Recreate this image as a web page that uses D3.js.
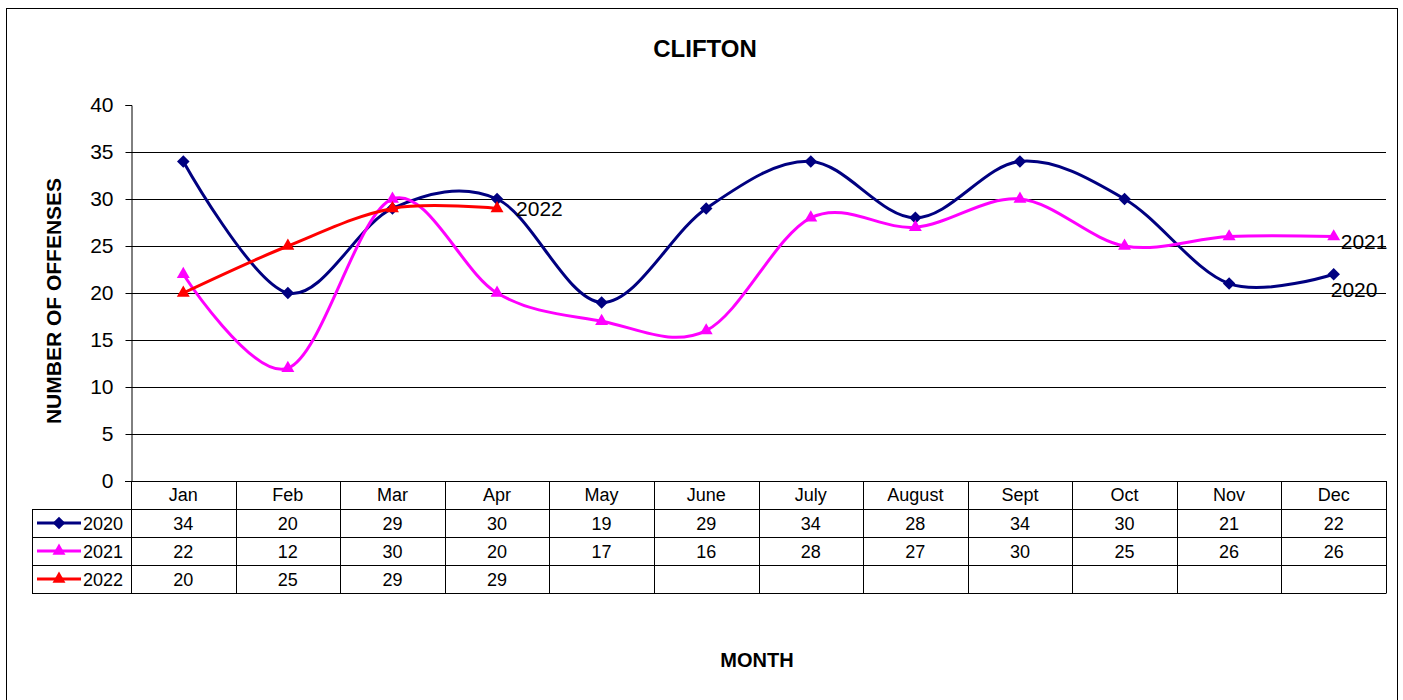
<!DOCTYPE html>
<html>
<head>
<meta charset="utf-8">
<script src="https://cdn.jsdelivr.net/npm/d3@7"></script>
<style>
  body { margin: 0; background: #fff; }
  svg text { font-family: "Liberation Sans", Arial, sans-serif; }
</style>
</head>
<body>
<div id="chart"></div>
<script>
var months = ["Jan", "Feb", "Mar", "Apr", "May", "June", "July", "August", "Sept", "Oct", "Nov", "Dec"];
var years = ["2020", "2021", "2022"];
var values2020 = [34, 20, 29, 30, 19, 29, 34, 28, 34, 30, 21, 22];
var values2021 = [22, 12, 30, 20, 17, 16, 28, 27, 30, 25, 26, 26];
var values2022 = [20, 25, 29, 29];
var yTicks = [0, 5, 10, 15, 20, 25, 30, 35, 40];

var W = 1403, H = 700;
var plotL = 131, plotR = 1386, plotT = 105, plotB = 481;
var rowH = 28, legendLeft = 32;

var svg = d3.select("#chart").append("svg")
	.attr("width", W)
	.attr("height", H);

svg.append("rect")
	.attr("x", 6.5).attr("y", 8.5)
	.attr("width", 1391).attr("height", 700)
	.attr("fill", "#fff").attr("stroke", "#000").attr("stroke-width", 1);

var x = d3.scaleBand().domain(months).range([plotL, plotR]);
var y = d3.scaleLinear().domain([0, 40]).range([plotB, plotT]);

// gridlines
svg.append("g")
	.selectAll("line")
	.data(yTicks.filter(function(d){ return d > 0 && d < 40; }))
	.enter().append("line")
	.attr("x1", plotL).attr("x2", plotR)
	.attr("y1", function(d){ return Math.round(y(d)) + 0.5; })
	.attr("y2", function(d){ return Math.round(y(d)) + 0.5; })
	.attr("stroke", "#000").attr("stroke-width", 1);

// y axis
var yAxis = svg.append("g")
	.attr("transform", "translate(" + (plotL + 0.5) + ",0)")
	.call(d3.axisLeft(y).tickValues(yTicks).tickSize(6).tickPadding(12));
yAxis.select(".domain").attr("stroke", "#000");
yAxis.selectAll("line").attr("stroke", "#000");
yAxis.selectAll("text")
	.attr("font-size", 21)
	.attr("fill", "#000")
	.style("font-family", "Liberation Sans, Arial, sans-serif");

svg.append("text")
	.attr("x", 705).attr("y", 57)
	.attr("text-anchor", "middle")
	.attr("font-size", 24).attr("font-weight", "bold")
	.text("CLIFTON");

svg.append("text")
	.attr("transform", "translate(61,301) rotate(-90)")
	.attr("text-anchor", "middle")
	.attr("font-size", 21).attr("font-weight", "bold")
	.text("NUMBER OF OFFENSES");

svg.append("text")
	.attr("x", 757).attr("y", 667)
	.attr("text-anchor", "middle")
	.attr("font-size", 20).attr("font-weight", "bold")
	.text("MONTH");

// series
var series = [
	{ name: "2020", values: values2020, color: "#000080", marker: "diamond" },
	{ name: "2021", values: values2021, color: "#FF00FF", marker: "triangle" },
	{ name: "2022", values: values2022, color: "#FF0000", marker: "triangle" }
];

var line = d3.line()
	.x(function(d, i){ return x(months[i]) + x.bandwidth() / 2; })
	.y(function(d){ return y(d); })
	.curve(d3.curveCardinal.tension(0));

function markerPath(type){
	return type == "diamond"
		? d3.symbol().type(d3.symbolDiamond2).size(100)()
		: d3.symbol().type(d3.symbolTriangle2).size(120)();
}

series.forEach(function(s){
	svg.append("path")
		.attr("d", line(s.values))
		.attr("fill", "none")
		.attr("stroke", s.color)
		.attr("stroke-width", 3);

	svg.append("g").selectAll("path")
		.data(s.values)
		.enter().append("path")
		.attr("transform", function(d, i){
			return "translate(" + (x(months[i]) + x.bandwidth() / 2) + "," + y(d) + ")";
		})
		.attr("d", markerPath(s.marker))
		.attr("fill", s.color);
});

// end labels
var endLabels = [
	{ name: "2022", values: values2022, dx: 19, dy: 8 },
	{ name: "2021", values: values2021, dx: 7, dy: 12 },
	{ name: "2020", values: values2020, dx: -3, dy: 23 }
];
endLabels.forEach(function(l){
	var i = l.values.length - 1;
	svg.append("text")
		.attr("x", x(months[i]) + x.bandwidth() / 2 + l.dx)
		.attr("y", y(l.values[i]) + l.dy)
		.attr("font-size", 21)
		.text(l.name);
});

// data table
var table = svg.append("g");
var tableBottom = plotB + rowH * 4;

table.selectAll("line.v")
	.data(months.concat(["end"]))
	.enter().append("line")
	.attr("x1", function(d){ return d == "end" ? plotR + 0.5 : Math.round(x(d)) + 0.5; })
	.attr("x2", function(d){ return d == "end" ? plotR + 0.5 : Math.round(x(d)) + 0.5; })
	.attr("y1", plotB).attr("y2", tableBottom)
	.attr("stroke", "#000");

table.selectAll("line.h")
	.data([0, 1, 2, 3, 4])
	.enter().append("line")
	.attr("x1", function(d){ return d == 0 ? plotL - 6 : legendLeft; })
	.attr("x2", plotR + 0.5)
	.attr("y1", function(d){ return plotB + d * rowH + 0.5; })
	.attr("y2", function(d){ return plotB + d * rowH + 0.5; })
	.attr("stroke", "#000");

table.append("line")
	.attr("x1", legendLeft + 0.5).attr("x2", legendLeft + 0.5)
	.attr("y1", plotB + rowH).attr("y2", tableBottom + 0.5)
	.attr("stroke", "#000");

table.selectAll("text.month")
	.data(months)
	.enter().append("text")
	.attr("x", function(d){ return x(d) + x.bandwidth() / 2; })
	.attr("y", plotB + 20)
	.attr("text-anchor", "middle")
	.attr("font-size", 18)
	.text(function(d){ return d; });

series.forEach(function(s, r){
	var rowY = plotB + rowH * (r + 1);
	table.selectAll(null)
		.data(s.values)
		.enter().append("text")
		.attr("x", function(d, i){ return x(months[i]) + x.bandwidth() / 2; })
		.attr("y", rowY + 21)
		.attr("text-anchor", "middle")
		.attr("font-size", 18)
		.text(function(d){ return d; });

	// legend key
	var cy = rowY + 14;
	table.append("line")
		.attr("x1", 37).attr("x2", 81)
		.attr("y1", cy).attr("y2", cy)
		.attr("stroke", s.color).attr("stroke-width", 3);
	table.append("path")
		.attr("transform", "translate(59," + cy + ")")
		.attr("d", markerPath(s.marker))
		.attr("fill", s.color);
	table.append("text")
		.attr("x", 83).attr("y", rowY + 21)
		.attr("font-size", 18)
		.text(s.name);
});
</script>
</body>
</html>
